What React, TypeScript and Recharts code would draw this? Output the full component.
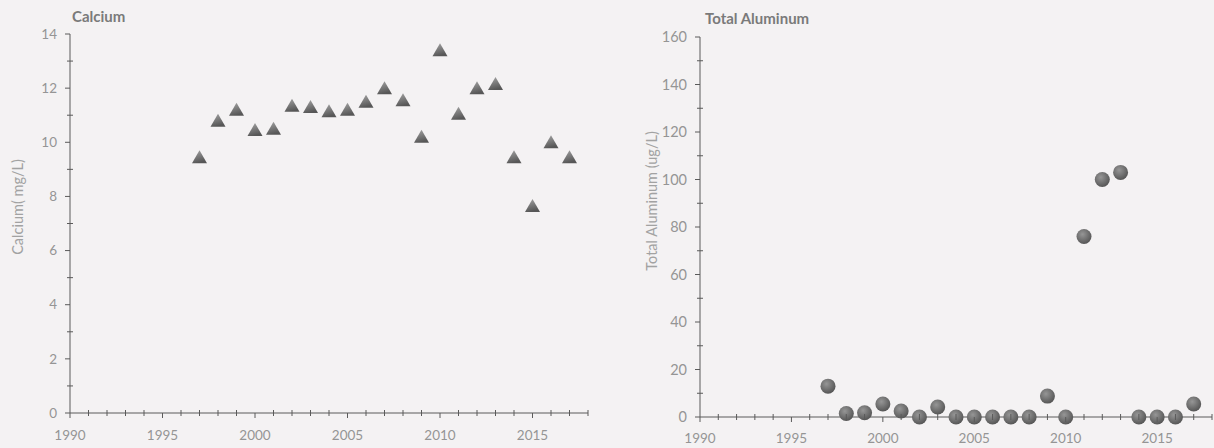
import React from 'react';
import { ScatterChart, Scatter, XAxis, YAxis, Label } from 'recharts';

const years = [1997, 1998, 1999, 2000, 2001, 2002, 2003, 2004, 2005, 2006, 2007, 2008, 2009, 2010, 2011, 2012, 2013, 2014, 2015, 2016, 2017];
const calcium = [9.45, 10.8, 11.2, 10.45, 10.5, 11.35, 11.3, 11.15, 11.2, 11.5, 12.0, 11.55, 10.2, 13.4, 11.05, 12.0, 12.15, 9.45, 7.65, 10.0, 9.45];
const aluminum = [13, 1.5, 1.8, 5.5, 2.5, 0, 4.2, 0, 0, 0, 0, 0, 8.8, 0, 76, 100, 103, 0, 0, 0, 5.5];

const yearTicks = [1990, 1991, 1992, 1993, 1994, 1995, 1996, 1997, 1998, 1999, 2000, 2001, 2002, 2003, 2004, 2005, 2006, 2007, 2008, 2009, 2010, 2011, 2012, 2013, 2014, 2015, 2016, 2017, 2018];
const calciumTicks = [0, 1, 2, 3, 4, 5, 6, 7, 8, 9, 10, 11, 12, 13, 14];
const aluminumTicks = [0, 10, 20, 30, 40, 50, 60, 70, 80, 90, 100, 110, 120, 130, 140, 150, 160];

const calciumData = years.map((year, i) => ({ year, value: calcium[i] }));
const aluminumData = years.map((year, i) => ({ year, value: aluminum[i] }));

const FONT = 'Lato, "Open Sans", sans-serif';
const AXIS = '#5a5a5a';
const TICK_TEXT = '#959595';

const YTick = ({ x, y, payload, step, size }: any) => {
  const major = payload.value % step === 0;
  return (
    <g>
      <line x1={major ? x - 5 : x - 3} x2={major ? x : x + 3} y1={y} y2={y} stroke={AXIS} strokeWidth={1} />
      {major && (
        <text x={x - 13} y={y} dy="0.35em" textAnchor="end" fill={TICK_TEXT} fontSize={size} fontFamily={FONT}>
          {payload.value}
        </text>
      )}
    </g>
  );
};

const XTick = ({ x, y, payload, gap }: any) => {
  const major = payload.value % 5 === 0;
  return (
    <g>
      <line x1={x} x2={x} y1={major ? y : y - 3} y2={major ? y + 5 : y + 3} stroke={AXIS} strokeWidth={1} />
      {major && (
        <text x={x} y={y + gap} dy="0.35em" textAnchor="middle" fill={TICK_TEXT} fontSize={13.5} fontFamily={FONT}>
          {payload.value}
        </text>
      )}
    </g>
  );
};

const Triangle = ({ cx, cy }: any) => (
  <polygon
    points={`${cx},${cy - 7} ${cx + 7.5},${cy + 6} ${cx - 7.5},${cy + 6}`}
    fill="url(#triGrad)"
  />
);

const Dot = ({ cx, cy }: any) => <circle cx={cx} cy={cy} r={7.5} fill="url(#dotGrad)" />;

const sideTitle = (text: string, x: number, cy: number) => () => (
  <text
    x={x}
    y={cy}
    transform={`rotate(-90 ${x} ${cy})`}
    textAnchor="middle"
    dy="0.35em"
    fill="#a2a2a2"
    fontSize={14.5}
    fontFamily={FONT}
  >
    {text}
  </text>
);

const titleStyle: React.CSSProperties = {
  position: 'absolute',
  fontFamily: FONT,
  fontSize: 15,
  fontWeight: 700,
  color: '#7a7a7a',
  lineHeight: '18px',
};

export default function App() {
  return (
    <div style={{ position: 'absolute', left: 0, top: 0, width: 1214, height: 448, background: '#f4f2f3', overflow: 'hidden' }}>
      <div style={{ ...titleStyle, left: 72, top: 7 }}>Calcium</div>
      <div style={{ ...titleStyle, left: 705, top: 9 }}>Total Aluminum</div>

      <div style={{ position: 'absolute', left: 0, top: 0 }}>
        <ScatterChart width={607} height={448} margin={{ top: 34, right: 19, bottom: 5, left: 12 }}>
          <defs>
            <linearGradient id="triGrad" x1="0" y1="0" x2="0.3" y2="1">
              <stop offset="0%" stopColor="#a6a6a6" />
              <stop offset="100%" stopColor="#575757" />
            </linearGradient>
          </defs>
          <XAxis
            type="number"
            dataKey="year"
            domain={[1990, 2018]}
            ticks={yearTicks}
            interval={0}
            tickSize={0}
            tickMargin={0}
            tickLine={false}
            height={30}
            axisLine={{ stroke: AXIS }}
            tick={(p: any) => <XTick {...p} gap={22} />}
          />
          <YAxis
            type="number"
            dataKey="value"
            domain={[0, 14]}
            ticks={calciumTicks}
            interval={0}
            tickSize={0}
            tickMargin={0}
            tickLine={false}
            width={58}
            axisLine={{ stroke: AXIS }}
            tick={(p: any) => <YTick {...p} step={2} size={13.5} />}
          >
            <Label content={sideTitle('Calcium( mg/L)', 18, 207)} />
          </YAxis>
          <Scatter data={calciumData} shape={<Triangle />} isAnimationActive={false} />
        </ScatterChart>
      </div>

      <div style={{ position: 'absolute', left: 607, top: 0 }}>
        <ScatterChart width={607} height={448} margin={{ top: 37, right: 2, bottom: 1, left: 36 }}>
          <defs>
            <radialGradient id="dotGrad" cx="0.4" cy="0.35" r="0.7">
              <stop offset="0%" stopColor="#969696" />
              <stop offset="100%" stopColor="#525252" />
            </radialGradient>
          </defs>
          <XAxis
            type="number"
            dataKey="year"
            domain={[1990, 2018]}
            ticks={yearTicks}
            interval={0}
            tickSize={0}
            tickMargin={0}
            tickLine={false}
            height={30}
            axisLine={{ stroke: AXIS }}
            tick={(p: any) => <XTick {...p} gap={21} />}
          />
          <YAxis
            type="number"
            dataKey="value"
            domain={[0, 160]}
            ticks={aluminumTicks}
            interval={0}
            tickSize={0}
            tickMargin={0}
            tickLine={false}
            width={57}
            axisLine={{ stroke: AXIS }}
            tick={(p: any) => <YTick {...p} step={20} size={14.5} />}
          >
            <Label content={sideTitle('Total Aluminum (ug/L)', 45, 201)} />
          </YAxis>
          <Scatter data={aluminumData} shape={<Dot />} isAnimationActive={false} />
        </ScatterChart>
      </div>
    </div>
  );
}
